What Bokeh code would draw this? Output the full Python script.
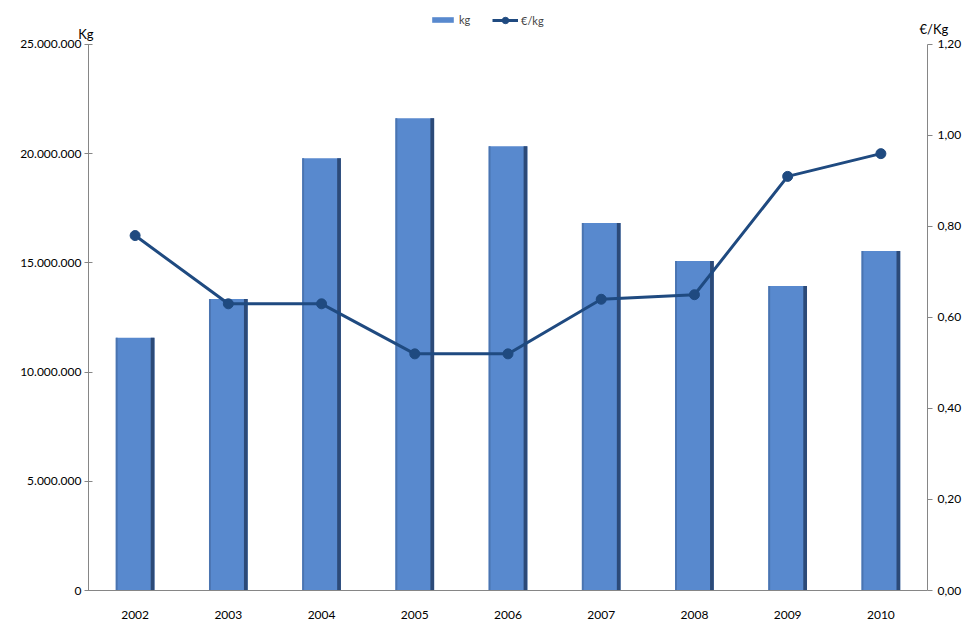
from bokeh.plotting import figure
from bokeh.models import (Range1d, LinearAxis, FixedTicker, Legend, LegendItem,
                          ColumnDataSource)
from bokeh.embed import file_html
from bokeh.resources import INLINE

years = ["2002", "2003", "2004", "2005", "2006", "2007", "2008", "2009", "2010"]
kg = [11570000, 13350000, 19790000, 21620000, 20340000, 16820000, 15080000, 13940000, 15540000]
eur_kg = [0.78, 0.63, 0.63, 0.52, 0.52, 0.64, 0.65, 0.91, 0.96]

left_ticks = [0, 5000000, 10000000, 15000000, 20000000, 25000000]
left_labels = ["0", "5.000.000", "10.000.000", "15.000.000", "20.000.000", "25.000.000"]
right_ticks = [0.0, 0.2, 0.4, 0.6, 0.8, 1.0, 1.2]
right_labels = ["0,00", "0,20", "0,40", "0,60", "0,80", "1,00", "1,20"]
unit_left = "Kg"
unit_right = "€/Kg"

FONT = "Lato"
BAR = "#5889ce"
BAR_DARK = "#2c4a78"
BAR_EDGE = "#4a74b0"
LINE = "#1f4a80"
AXIS = "#868686"

xs = list(range(len(years)))
bar_w = 0.415

# layout (pixels)
W, H = 964, 621
FL, FR, FT, FB = 88, 928, 4, 591
AX_TOP = 44                       # where the value axes end
y_left_max = 25000000
y_right_max = 1.2
scale = (FB - FT) / (FB - AX_TOP)


def y_at(page_y):
    """data value (left scale) at a given pixel row"""
    return y_left_max * (FB - page_y) / (FB - AX_TOP)


src = ColumnDataSource(dict(
    x=xs,
    kg=kg,
    eur=eur_kg,
    xr=[x + bar_w / 2 - 0.02 for x in xs],
    xl=[x - bar_w / 2 + 0.01 for x in xs],
))

p = figure(width=W, height=H, output_backend="svg", toolbar_location=None,
           x_range=Range1d(-0.5, len(years) - 0.5), y_range=Range1d(0, y_left_max * scale),
           min_border_left=FL, min_border_right=W - FR, min_border_top=FT,
           min_border_bottom=H - FB)
p.outline_line_color = None
p.xgrid.grid_line_color = None
p.ygrid.grid_line_color = None
p.extra_y_ranges = {"right": Range1d(0, y_right_max * scale)}

bars = p.vbar(x="x", top="kg", width=bar_w, source=src, fill_color=BAR, line_color=None)
p.vbar(x="xr", top="kg", width=0.04, source=src, fill_color=BAR_DARK, line_color=None)
p.vbar(x="xl", top="kg", width=0.02, source=src, fill_color=BAR_EDGE, line_color=None)

ln = p.line(x="x", y="eur", source=src, y_range_name="right", line_color=LINE, line_width=3)
mk = p.scatter(x="x", y="eur", source=src, y_range_name="right", size=10,
               fill_color=LINE, line_color=LINE)

LT_OUT, LT_STAND = 4, 3
ax = p.yaxis[0]
ax.ticker = FixedTicker(ticks=left_ticks)
ax.bounds = (0, y_left_max)
ax.major_label_overrides = {t: l for t, l in zip(left_ticks, left_labels)}
ax.minor_tick_line_color = None
ax.major_tick_in = 4
ax.major_tick_out = LT_OUT
ax.major_label_standoff = LT_STAND
ax.axis_line_color = AXIS
ax.major_tick_line_color = AXIS
ax.major_label_text_font = FONT
ax.major_label_text_font_size = "12px"
ax.major_label_text_color = "#000000"

RT_OUT, RT_STAND = 5, 5
rax = LinearAxis(y_range_name="right", ticker=FixedTicker(ticks=right_ticks))
rax.bounds = (0, y_right_max)
rax.major_label_overrides = {t: l for t, l in zip(right_ticks, right_labels)}
rax.minor_tick_line_color = None
rax.major_tick_in = 0
rax.major_tick_out = RT_OUT
rax.major_label_standoff = RT_STAND
rax.axis_line_color = AXIS
rax.major_tick_line_color = AXIS
rax.major_label_text_font = FONT
rax.major_label_text_font_size = "12px"
rax.major_label_text_color = "#000000"
p.add_layout(rax, "right")

xa = p.xaxis[0]
xa.ticker = FixedTicker(ticks=xs)
xa.major_label_overrides = {i: y for i, y in zip(xs, years)}
xa.major_tick_line_color = None
xa.minor_tick_line_color = None
xa.axis_line_color = AXIS
xa.major_label_standoff = 14
xa.major_label_text_font = FONT
xa.major_label_text_font_size = "12px"
xa.major_label_text_color = "#000000"

# unit labels: outer axes whose single label is pulled back over the value axes
LEFT_PANEL = LT_OUT + LT_STAND + 62     # approx. width taken by the left value axis
RIGHT_PANEL = RT_OUT + RT_STAND + 24    # approx. width taken by the right value axis


def unit_axis(text, page_y, side, standoff):
    t = y_at(page_y)
    a = LinearAxis(ticker=FixedTicker(ticks=[t]))
    a.major_label_overrides = {t: text}
    a.major_label_standoff = standoff
    a.axis_line_color = None
    a.major_tick_line_color = None
    a.minor_tick_line_color = None
    a.major_tick_out = 0
    a.major_tick_in = 0
    a.major_label_text_font = FONT
    a.major_label_text_font_size = "13px"
    a.major_label_text_color = "#000000"
    p.add_layout(a, side)


# "Kg": right edge at x=95 ; "€/Kg": left edge at x=917
unit_axis(unit_left, 34, "left", FL - LEFT_PANEL - 95)
unit_axis(unit_right, 29, "right", 917 - FR - RIGHT_PANEL)

leg1 = Legend(items=[LegendItem(label="kg", renderers=[bars])],
              orientation="horizontal", location=(341, 564),
              label_text_font=FONT, label_text_font_size="11px",
              border_line_color=None, background_fill_alpha=0,
              glyph_width=27, glyph_height=7, padding=2, margin=0,
              label_standoff=3, label_height=12)
leg2 = Legend(items=[LegendItem(label="€/kg", renderers=[ln, mk])],
              orientation="horizontal", location=(404, 562),
              label_text_font=FONT, label_text_font_size="11px",
              border_line_color=None, background_fill_alpha=0,
              glyph_width=26, glyph_height=16, padding=2, margin=0,
              label_standoff=3, label_height=12)
p.add_layout(leg1, "center")
p.add_layout(leg2, "center")

open("out.html", "w").write(file_html(p, INLINE))
